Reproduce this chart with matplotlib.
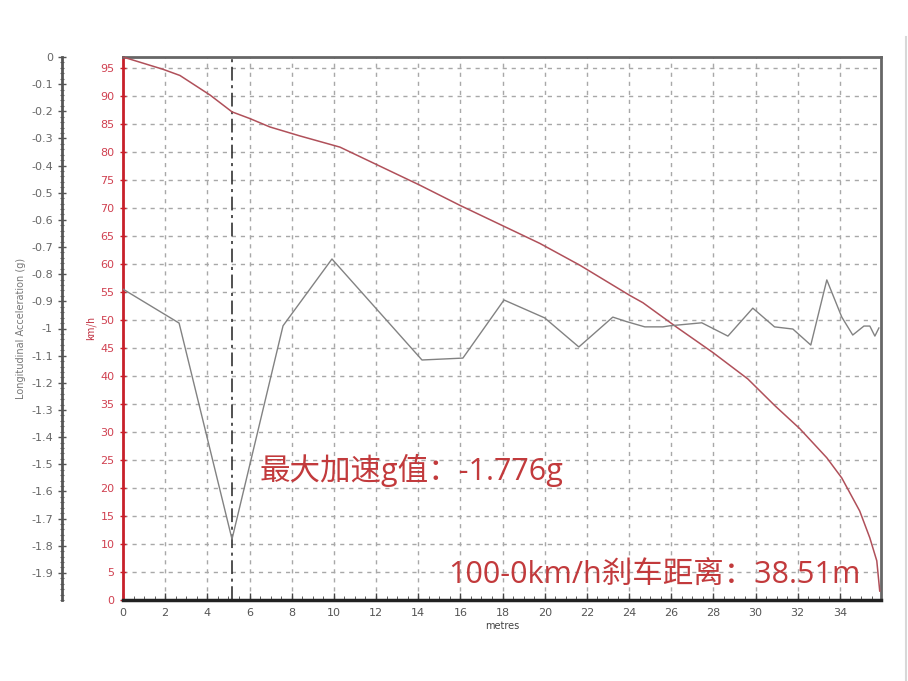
import matplotlib
matplotlib.use("Agg")
import matplotlib.pyplot as plt
from matplotlib.ticker import MultipleLocator, FuncFormatter
from matplotlib.lines import Line2D

plt.rcParams['font.family'] = ['Noto Sans CJK SC', 'DejaVu Sans']

# Speed trace (km/h) vs distance (m)
speed_dist = [0.0, 1.90, 2.70, 4.13, 5.17, 6.02, 6.97, 8.39, 10.29, 14.08, 15.98,
              19.77, 21.67, 24.04, 24.66, 26.27, 27.98, 29.63, 30.92, 32.10,
              33.38, 34.09, 34.94, 35.42, 35.75, 35.89]
speed_kmh = [97.0, 94.8, 93.7, 90.2, 87.2, 86.0, 84.5, 82.9, 80.9, 74.1, 70.5,
             63.7, 59.8, 54.4, 53.1, 48.7, 44.2, 39.5, 34.7, 30.6,
             25.4, 21.8, 15.9, 11.1, 7.0, 1.6]

# Longitudinal acceleration (g) vs distance (m)
acc_dist = [0.0, 2.66, 5.17, 7.59, 9.91, 14.18, 16.12, 18.07, 20.0, 21.62,
            23.23, 23.9, 24.75, 25.6, 25.94, 27.45, 28.69, 29.87, 30.9, 31.77,
            32.62, 33.38, 34.09, 34.61, 35.14, 35.42, 35.66, 35.85]
acc_g = [-0.855, -0.98, -1.776, -0.99, -0.744, -1.116, -1.109, -0.895, -0.961, -1.068,
         -0.958, -0.975, -0.994, -0.994, -0.99, -0.979, -1.028, -0.925, -0.994, -1.002,
         -1.061, -0.821, -0.958, -1.024, -0.991, -0.991, -1.028, -0.998]

peak_dist = 5.17
x_ticks = list(range(0, 35, 2))
speed_ticks = list(range(0, 100, 5))
acc_ticks = [round(-0.1 * i, 1) for i in range(0, 20)]

label_peak = "最大加速g值：-1.776g"
label_dist = "100-0km/h刹车距离：38.51m"

RED = '#c8202a'
TXT_RED = '#c23a3c'
GRAY_TXT = '#555555'

fig = plt.figure(figsize=(9.08, 6.81), dpi=100)
ax = fig.add_axes([123/908, 81/681, 758/908, 543/681])

ax.set_xlim(0, 35.95)
ax.set_ylim(0, 97)

ax.grid(True, which='major', color='#a8a8a8', linestyle=(0, (3, 3.5)), linewidth=1.0)
ax.set_xticks(x_ticks)
ax.xaxis.set_minor_locator(MultipleLocator(0.5))
ax.set_yticks(speed_ticks)

ax.plot(speed_dist, speed_kmh, color='#b0505a', lw=1.1, zorder=4)
ax.axvline(peak_dist, color='#222222', lw=1.1, linestyle=(0, (9, 3, 2, 3)), zorder=3)

for s in ['top', 'right']:
    ax.spines[s].set_color('#666666')
    ax.spines[s].set_linewidth(2)
ax.spines['bottom'].set_color('#222222')
ax.spines['bottom'].set_linewidth(2.5)
ax.spines['left'].set_color(RED)
ax.spines['left'].set_linewidth(2)

ax.tick_params(axis='y', colors=RED, labelcolor='#d04050', labelsize=8, direction='inout', length=5, width=1)
ax.tick_params(axis='x', colors='#444444', labelcolor=GRAY_TXT, labelsize=8, direction='in', length=5, width=1, pad=6)
ax.tick_params(axis='x', which='minor', direction='in', length=3, colors='#444444')
ax.set_ylabel('km/h', color='#c03040', fontsize=7, labelpad=3)
ax.set_xlabel('metres', color='#444444', fontsize=7, labelpad=2, family='DejaVu Sans')
for lab in ax.get_xticklabels() + ax.get_yticklabels():
    lab.set_family('DejaVu Sans')

ax2 = ax.twinx()
ax2.set_ylim(-2.0, 0)
ax2.plot(acc_dist, acc_g, color='#828282', lw=1.0, zorder=5)
ax2.yaxis.set_ticks_position('left')
ax2.yaxis.set_label_position('left')
for s in ['top', 'right', 'bottom']:
    ax2.spines[s].set_visible(False)
ax2.spines['left'].set_visible(True)
ax2.spines['left'].set_position(('outward', 44))
ax2.spines['left'].set_color('#555555')
ax2.spines['left'].set_linewidth(2)
ax2.set_yticks(acc_ticks)
ax2.yaxis.set_major_formatter(FuncFormatter(lambda v, p: '0' if abs(v) < 1e-9 else ('%g' % round(v, 1))))
ax2.yaxis.set_minor_locator(MultipleLocator(0.02))
ax2.tick_params(axis='y', which='major', colors='#555555', labelcolor='#666666', labelsize=8, direction='inout', length=6, width=1)
ax2.tick_params(axis='y', which='minor', colors='#666666', direction='inout', length=3, width=0.8)
for lab in ax2.get_yticklabels():
    lab.set_family('DejaVu Sans')
ax2.set_ylabel('Longitudinal Acceleration (g)', color='#777777', fontsize=7, labelpad=4, family='DejaVu Sans')

txt_fam = ['Open Sans', 'Noto Sans CJK SC']
fig.text(260/908, 1 - 470/681, label_peak, color=TXT_RED, fontsize=22, ha='left', va='center', family=txt_fam)
fig.text(448/908, 1 - 575/681, label_dist, color=TXT_RED, fontsize=22, ha='left', va='center', family=txt_fam)

fig.add_artist(Line2D([906/908, 906/908], [0.0, 1 - 37/681], transform=fig.transFigure, color='#d8d8d8', lw=1.5))

fig.savefig('out.png', dpi=100)
